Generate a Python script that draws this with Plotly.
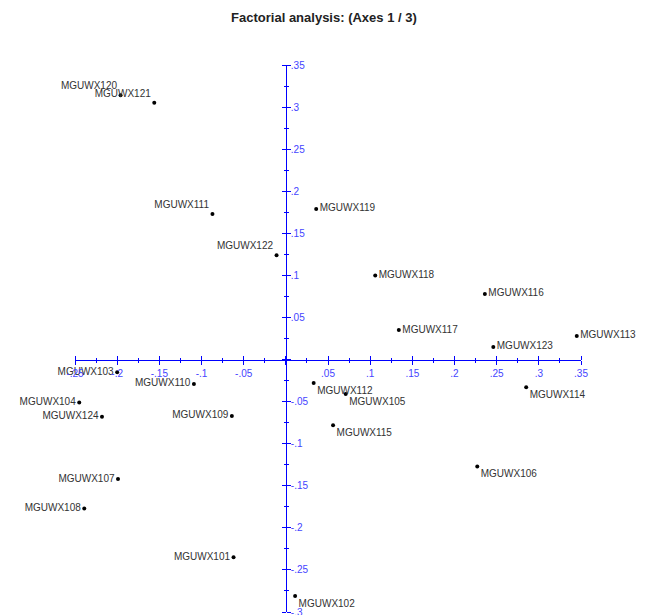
import plotly.graph_objects as go

labels = ["MGUWX101", "MGUWX102", "MGUWX103", "MGUWX104", "MGUWX105", "MGUWX106",
          "MGUWX107", "MGUWX108", "MGUWX109", "MGUWX110", "MGUWX111", "MGUWX112",
          "MGUWX113", "MGUWX114", "MGUWX115", "MGUWX116", "MGUWX117", "MGUWX118",
          "MGUWX119", "MGUWX120", "MGUWX121", "MGUWX122", "MGUWX123", "MGUWX124"]
axis1 = [-0.062, 0.011, -0.200, -0.245, 0.071, 0.227,
         -0.199, -0.239, -0.064, -0.109, -0.087, 0.033,
         0.345, 0.285, 0.056, 0.236, 0.134, 0.106,
         0.036, -0.196, -0.156, -0.011, 0.246, -0.218]
axis3 = [-0.235, -0.281, -0.015, -0.051, -0.041, -0.127,
         -0.142, -0.177, -0.067, -0.029, 0.173, -0.028,
         0.028, -0.033, -0.078, 0.078, 0.035, 0.100,
         0.179, 0.314, 0.305, 0.124, 0.015, -0.068]

x_ticks = [-0.25, -0.2, -0.15, -0.1, -0.05, 0, 0.05, 0.1, 0.15, 0.2, 0.25, 0.3, 0.35]
x_tick_text = ["-.25", "-.2", "-.15", "-.1", "-.05", "", ".05", ".1", ".15", ".2", ".25", ".3", ".35"]
y_ticks = [-0.3, -0.25, -0.2, -0.15, -0.1, -0.05, 0, 0.05, 0.1, 0.15, 0.2, 0.25, 0.3, 0.35]
y_tick_text = ["-.3", "-.25", "-.2", "-.15", "-.1", "-.05", "", ".05", ".1", ".15", ".2", ".25", ".3", ".35"]
x_minor = [-0.225, -0.175, -0.125, -0.075, -0.025, 0.025, 0.075, 0.125, 0.175, 0.225, 0.275, 0.325]
y_minor = [-0.275, -0.225, -0.175, -0.125, -0.075, -0.025, 0.025, 0.075, 0.125, 0.175, 0.225, 0.275, 0.325]

x_range = [-0.25, 0.35]
y_range = [-0.3, 0.35]

def text_pos(x, y):
    if x >= 0:
        return "middle right" if y >= 0 else "bottom right"
    return "top left" if y >= 0 else "middle left"

positions = [text_pos(x, y) for x, y in zip(axis1, axis3)]

AX = "#0000ff"
TICKFONT = dict(family="Liberation Sans, Arial, sans-serif", size=10, color="#4444ff")

fig = go.Figure()
fig.add_trace(go.Scatter(
    x=axis1, y=axis3, mode="markers+text", text=labels, textposition=positions,
    marker=dict(color="black", size=4),
    textfont=dict(family="Liberation Sans, Arial, sans-serif", size=10, color="#333333"),
    cliponaxis=False, hoverinfo="text"))
fig.add_trace(go.Scatter(
    x=axis1, y=axis3, mode="markers", marker=dict(opacity=0, size=1),
    xaxis="x2", yaxis="y2", hoverinfo="skip"))

xpos = (0 - y_range[0]) / (y_range[1] - y_range[0])
ypos = (0 - x_range[0]) / (x_range[1] - x_range[0])

common = dict(showgrid=False, zeroline=False, showline=True, linecolor=AX, linewidth=1,
              ticks="outside", ticklen=4, tickcolor=AX, tickwidth=1, automargin=False)

fig.update_layout(
    width=646, height=615,
    margin=dict(l=67, r=73, t=57, b=11),
    paper_bgcolor="white", plot_bgcolor="white",
    showlegend=False,
    title=dict(text="<b>Factorial analysis: (Axes 1 / 3)</b>",
               font=dict(family="Liberation Sans Narrow, Arial Narrow, Liberation Sans, sans-serif",
                         size=13, color="#222222"),
               x=0.492, xanchor="center", xref="paper", y=0.985, yref="container", yanchor="middle"),
    xaxis=dict(range=x_range, domain=[0, 1], anchor="free", position=xpos, side="bottom",
               tickmode="array", tickvals=x_ticks, ticktext=x_tick_text, tickfont=TICKFONT,
               minor=dict(tickmode="array", tickvals=x_minor, ticks="outside", ticklen=2, tickcolor=AX),
               **common),
    xaxis2=dict(range=x_range, domain=[0, 1], anchor="free", position=xpos, side="top",
                overlaying="x", tickmode="array", tickvals=x_ticks, showticklabels=False,
                minor=dict(tickmode="array", tickvals=x_minor, ticks="outside", ticklen=2, tickcolor=AX),
                **common),
    yaxis=dict(range=y_range, domain=[0, 1], anchor="free", position=ypos, side="right",
               tickmode="array", tickvals=y_ticks, ticktext=y_tick_text, tickfont=TICKFONT,
               ticklabelstandoff=-2,
               minor=dict(tickmode="array", tickvals=y_minor, ticks="outside", ticklen=2, tickcolor=AX),
               **common),
    yaxis2=dict(range=y_range, domain=[0, 1], anchor="free", position=ypos, side="left",
                overlaying="y", tickmode="array", tickvals=y_ticks, showticklabels=False,
                minor=dict(tickmode="array", tickvals=y_minor, ticks="outside", ticklen=2, tickcolor=AX),
                **common),
)

fig.write_html("out.html")
